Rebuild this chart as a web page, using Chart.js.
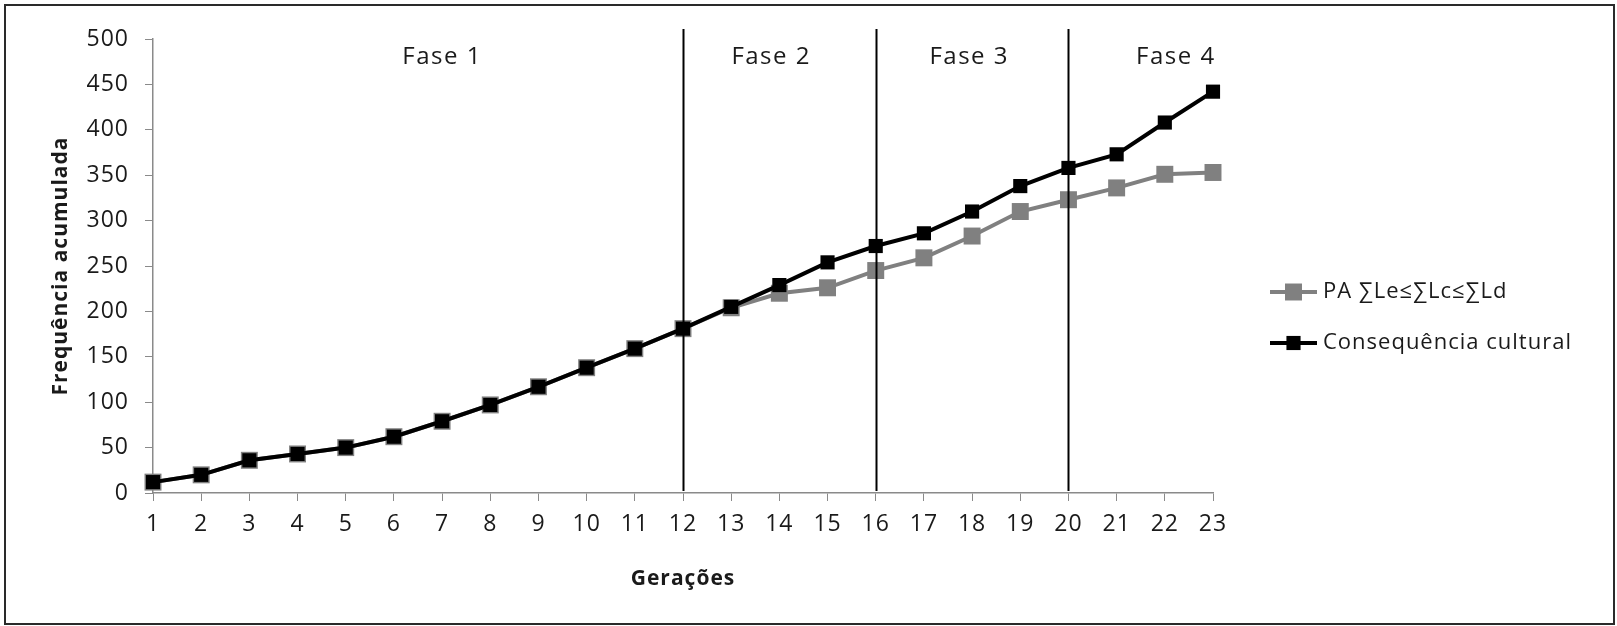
<!DOCTYPE html>
<html>
<head>
<meta charset="utf-8">
<script src="https://cdn.jsdelivr.net/npm/chart.js@4.4.1/dist/chart.umd.min.js"></script>
<style>
  html, body { margin: 0; padding: 0; background: #fff; }
  #wrap { position: absolute; left: 0; top: 0; width: 1617px; height: 626px; }
</style>
</head>
<body>
<div id="wrap"><canvas id="chart" width="1617" height="626"></canvas></div>
<script>
// Gerações (x categories)
const geracoes = ['1','2','3','4','5','6','7','8','9','10','11','12','13','14','15','16','17','18','19','20','21','22','23'];

// PA ∑Le≤∑Lc≤∑Ld (gray)
const paValues = [12, 20, 36, 43, 50, 62, 79, 97, 117, 138, 159, 181, 204, 220, 226, 245, 259, 283, 310, 323, 336, 351, 353];

// Consequência cultural (black)
const consequenciaValues = [12, 20, 36, 43, 50, 62, 79, 97, 117, 138, 159, 181, 205, 229, 254, 272, 286, 310, 338, 358, 373, 408, 442];

// y axis ticks
const yTicks = [0, 50, 100, 150, 200, 250, 300, 350, 400, 450, 500];

// phase boundaries (generation numbers) and phase names
const faseLimites = ['12', '16', '20'];
const faseNomes = ['Fase 1', 'Fase 2', 'Fase 3', 'Fase 4'];

const FONT = "'Open Sans', 'DejaVu Sans', sans-serif";

// the original text is a stretched Calibri, so open the letters up a bit
const espacamentoPlugin = {
  id: 'espacamento',
  beforeInit(chart) { chart.ctx.letterSpacing = '1px'; },
  beforeUpdate(chart) { chart.ctx.letterSpacing = '1px'; }
};

// draws the outer frame, phase lines and phase labels
const fasesPlugin = {
  id: 'fases',
  beforeDraw(chart) {
    const ctx = chart.ctx;
    ctx.letterSpacing = '1px';
    ctx.save();
    ctx.strokeStyle = '#2a2a2a';
    ctx.lineWidth = 2;
    ctx.strokeRect(5, 5, 1609, 619);
    ctx.restore();
  },
  afterDatasetsDraw(chart, args, opts) {
    const ctx = chart.ctx;
    const x = chart.scales.x;
    const area = chart.chartArea;
    ctx.save();
    ctx.strokeStyle = '#000';
    ctx.lineWidth = 2;
    faseLimites.forEach(g => {
      const px = Math.round(x.getPixelForValue(geracoes.indexOf(g))) + 0.5;
      ctx.beginPath();
      ctx.moveTo(px, area.top - 10);
      ctx.lineTo(px, area.bottom - 2);
      ctx.stroke();
    });
    ctx.fillStyle = '#1a1a1a';
    ctx.font = '24px ' + FONT;
    ctx.letterSpacing = '1.5px';
    ctx.textAlign = 'center';
    ctx.textBaseline = 'middle';
    faseNomes.forEach((nome, i) => {
      ctx.fillText(nome, x.getPixelForValue(opts.labelAt[i]), opts.labelY);
    });
    ctx.restore();
  }
};

// legend with a line sample and square marker, like the original
const legendaPlugin = {
  id: 'legenda',
  afterDraw(chart, args, opts) {
    const ctx = chart.ctx;
    ctx.save();
    ctx.font = '22px ' + FONT;
    ctx.letterSpacing = '1px';
    ctx.textBaseline = 'middle';
    opts.entries.forEach((dsIndex, i) => {
      const ds = chart.data.datasets[dsIndex];
      const y = opts.y + i * opts.gap;
      ctx.strokeStyle = ds.borderColor;
      ctx.lineWidth = ds.borderWidth;
      ctx.beginPath();
      ctx.moveTo(opts.x, y);
      ctx.lineTo(opts.x + opts.lineLen, y);
      ctx.stroke();
      const s = ds.pointRadius * Math.SQRT1_2;
      ctx.fillStyle = ds.pointBackgroundColor;
      ctx.fillRect(opts.x + opts.lineLen / 2 - s, y - s, 2 * s, 2 * s);
      ctx.fillStyle = '#1a1a1a';
      ctx.fillText(ds.label, opts.x + opts.lineLen + 6, y);
    });
    ctx.restore();
  }
};

new Chart(document.getElementById('chart'), {
  type: 'line',
  data: {
    labels: geracoes,
    datasets: [{
      label: 'PA ∑Le≤∑Lc≤∑Ld',
      data: paValues,
      borderColor: '#808080',
      backgroundColor: '#808080',
      borderWidth: 4,
      pointStyle: 'rect',
      pointRadius: 12,
      pointBackgroundColor: '#808080',
      pointBorderWidth: 0,
      order: 1
    }, {
      label: 'Consequência cultural',
      data: consequenciaValues,
      borderColor: '#000000',
      backgroundColor: '#000000',
      borderWidth: 4,
      pointStyle: 'rect',
      pointRadius: 10,
      pointBackgroundColor: '#000000',
      pointBorderWidth: 0,
      order: 0
    }]
  },
  options: {
    responsive: false,
    animation: false,
    events: [],
    layout: { padding: { left: 0, top: 39, right: 404, bottom: 0 } },
    plugins: {
      legend: { display: false },
      tooltip: { enabled: false },
      fases: { labelAt: [6, 12.83, 16.94, 21.23], labelY: 57 },
      legenda: { entries: [0, 1], x: 1270, y: 292, gap: 51, lineLen: 47 }
    },
    scales: {
      x: {
        offset: false,
        grid: { drawOnChartArea: false, drawTicks: true, tickLength: 8, color: '#8a8a8a', offset: false },
        border: { color: '#8a8a8a', width: 1.5 },
        ticks: { color: '#1a1a1a', font: { family: FONT, size: 23 }, padding: 10, maxRotation: 0, autoSkip: false },
        title: { display: true, text: 'Gerações', color: '#1a1a1a', font: { family: FONT, size: 21, weight: 'bold' }, padding: { top: 0, bottom: 34 } },
        afterFit(scale) { scale.height = 133; }
      },
      y: {
        min: 0,
        max: 500,
        afterBuildTicks(scale) { scale.ticks = yTicks.map(v => ({ value: v })); },
        grid: { drawOnChartArea: false, drawTicks: true, tickLength: 8, color: '#8a8a8a' },
        border: { color: '#8a8a8a', width: 1.5 },
        ticks: { color: '#1a1a1a', font: { family: FONT, size: 23 }, padding: 16 },
        title: { display: true, text: 'Frequência acumulada', color: '#1a1a1a', font: { family: FONT, size: 21, weight: 'bold' }, padding: { top: 48, bottom: 0 } },
        afterFit(scale) { scale.width = 153; }
      }
    }
  },
  plugins: [espacamentoPlugin, fasesPlugin, legendaPlugin]
});
</script>
</body>
</html>
